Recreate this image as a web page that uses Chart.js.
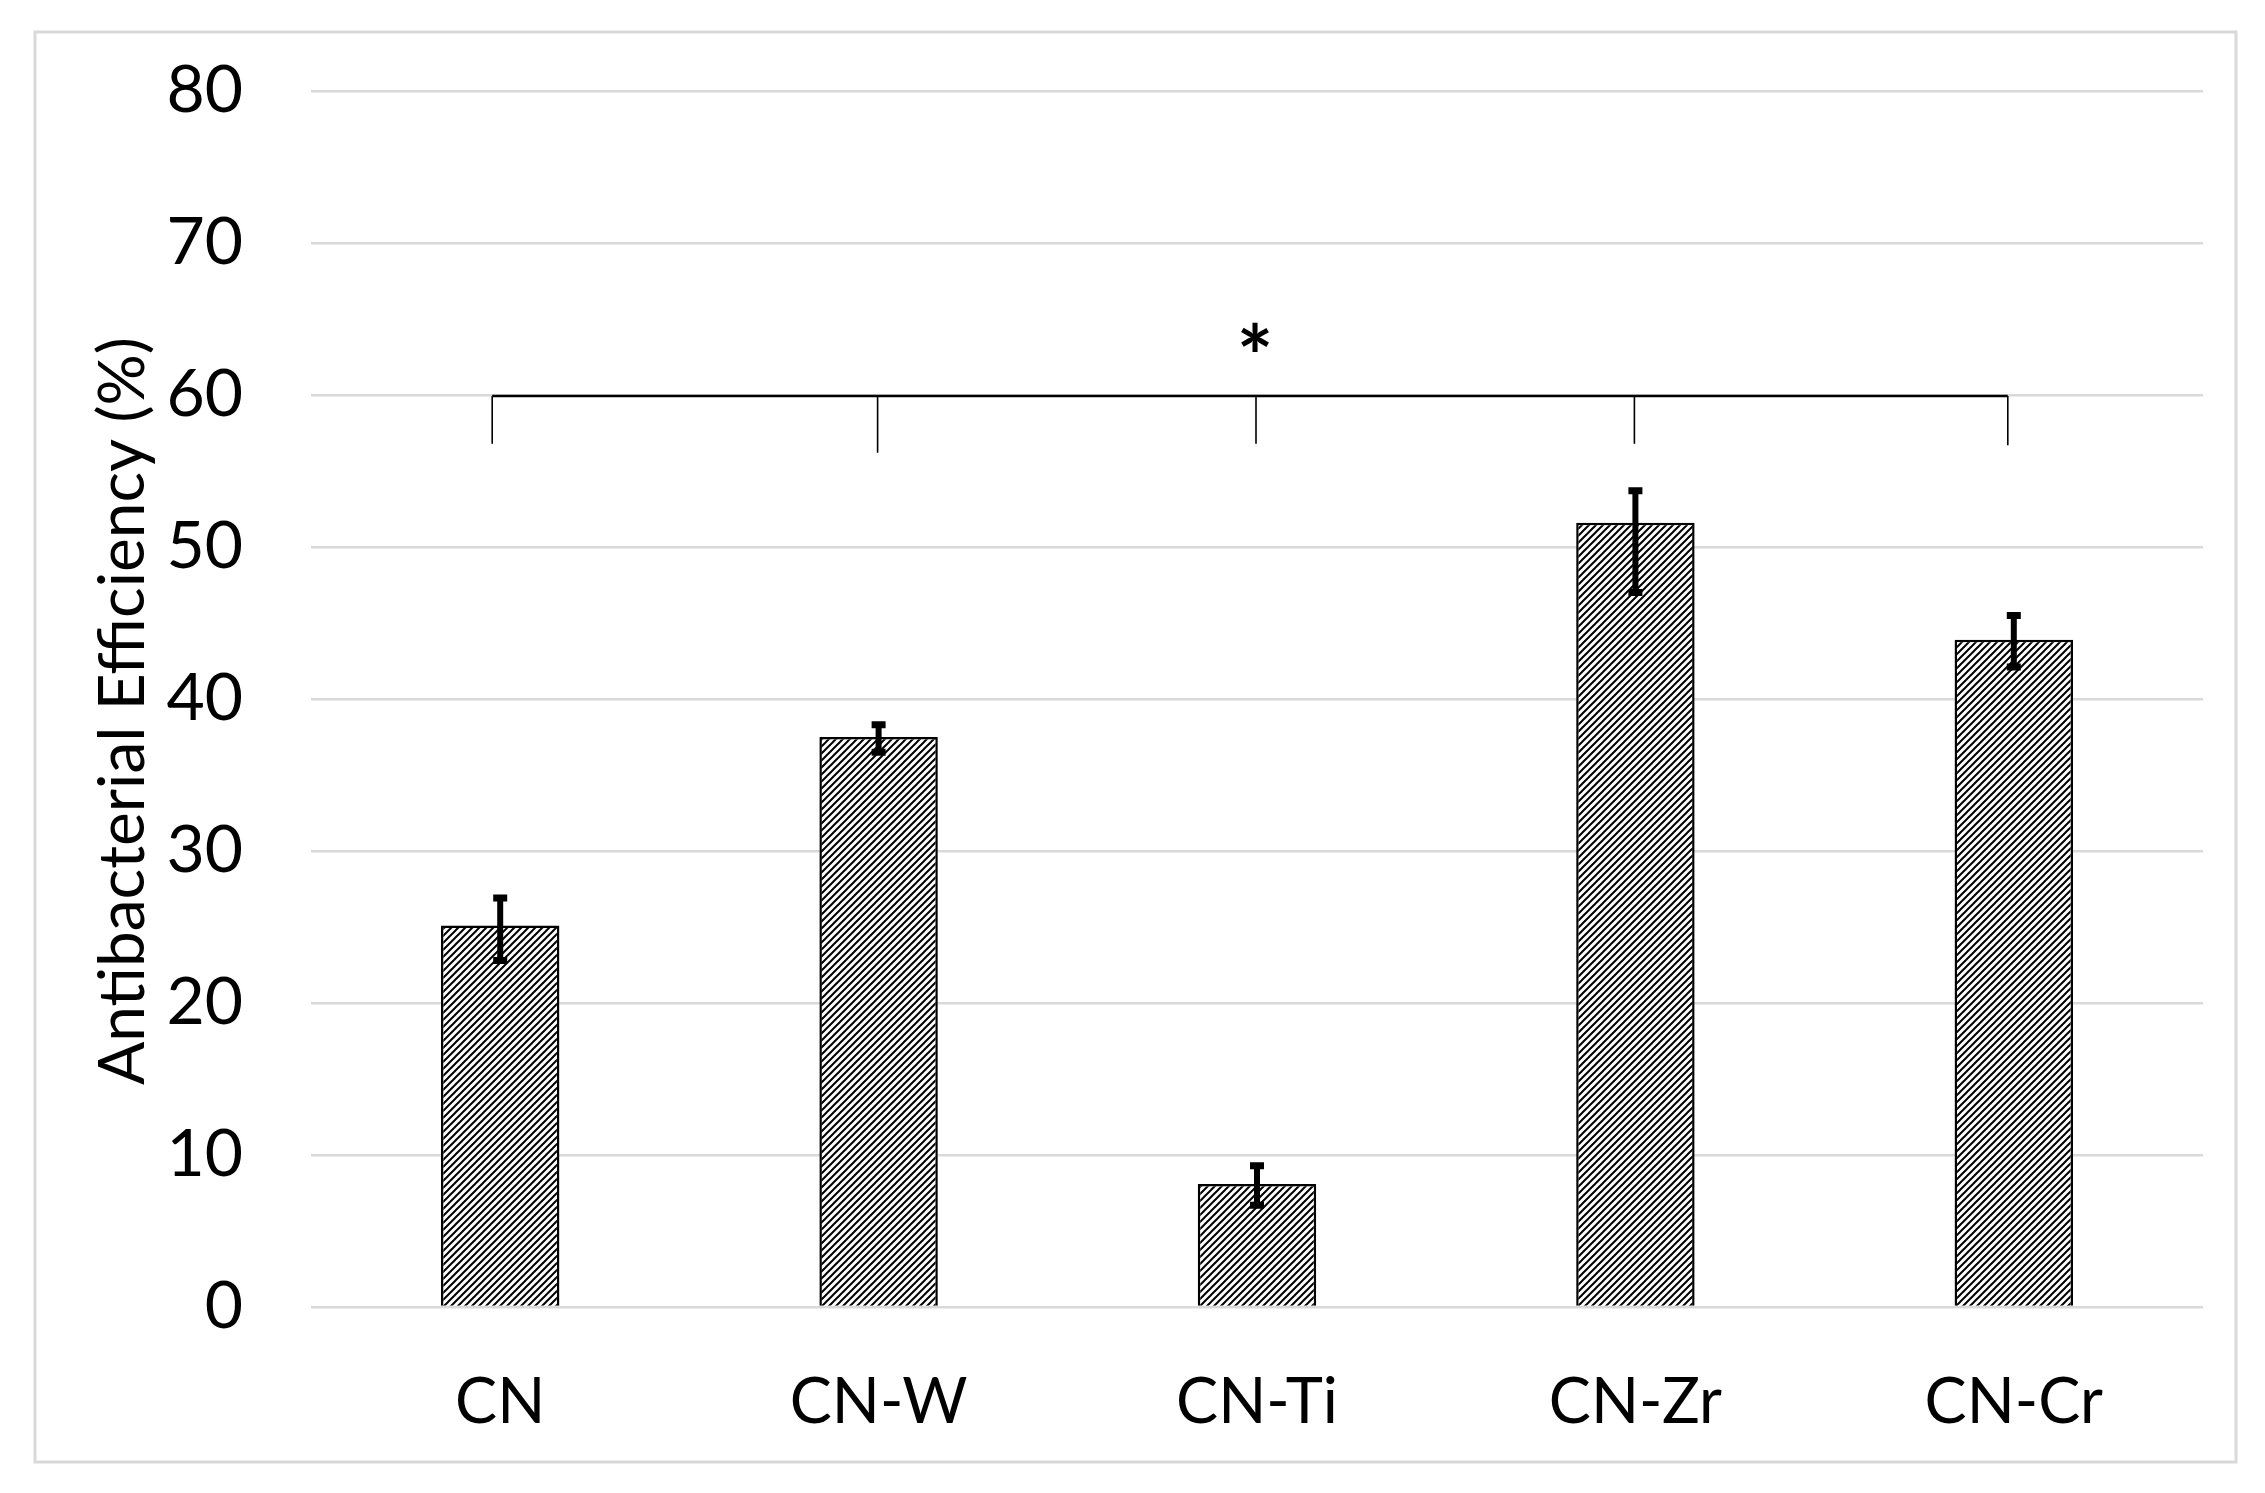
<!DOCTYPE html>
<html>
<head>
<meta charset="utf-8">
<script src="https://cdn.jsdelivr.net/npm/chart.js@4.4.1/dist/chart.umd.min.js"></script>
<style>
  html, body { margin: 0; padding: 0; background: #fff; }
  #wrap { width: 2265px; height: 1493px; }
</style>
</head>
<body>
<div id="wrap"><canvas id="chart" width="2265" height="1493"></canvas></div>
<script>
const categories = ['CN', 'CN-W', 'CN-Ti', 'CN-Zr', 'CN-Cr'];
const efficiency = [25.1, 37.5, 8.1, 51.6, 43.9];
const errorUp = [1.8, 0.8, 1.2, 2.1, 1.6];
const errorDown = [2.3, 1.0, 1.4, 4.6, 1.8];
const yTicks = [0, 10, 20, 30, 40, 50, 60, 70, 80];
const bracketLevel = 60;
const bracketTickEnds = [56.8, 56.2, 56.8, 56.8, 56.7];
const starLevel = 63.8;
const yTitle = 'Antibacterial Efficiency (%)';

const FONT = 'Lato, "Open Sans", sans-serif';

// diagonal hatch like the excel pattern fill
function makeHatch() {
    const n = 7;
    const c = document.createElement('canvas');
    c.width = n; c.height = n;
    const g = c.getContext('2d');
    g.fillStyle = '#fff';
    g.fillRect(0, 0, n, n);
    g.strokeStyle = '#000';
    g.lineWidth = 2;
    g.beginPath();
    g.moveTo(0, n); g.lineTo(n, 0);
    g.moveTo(-2, 2); g.lineTo(2, -2);
    g.moveTo(n - 2, n + 2); g.lineTo(n + 2, n - 2);
    g.stroke();
    return g.createPattern(c, 'repeat');
}

const frame = {
    id: 'frame',
    beforeDraw(chart) {
        const ctx = chart.ctx;
        ctx.save();
        ctx.fillStyle = '#fff';
        ctx.fillRect(0, 0, chart.width, chart.height);
        ctx.strokeStyle = '#d9d9d9';
        ctx.lineWidth = 3;
        ctx.strokeRect(35, 32, 2201, 1430);
        ctx.restore();
    }
};

const extras = {
    id: 'extras',
    afterDatasetsDraw(chart) {
        const ctx = chart.ctx;
        const y = chart.scales.y;
        const meta = chart.getDatasetMeta(0);
        ctx.save();

        // error bars
        ctx.strokeStyle = '#000';
        for (let i = 0; i < efficiency.length; i++) {
            const x = meta.data[i].x;
            const top = y.getPixelForValue(efficiency[i] + errorUp[i]);
            const bot = y.getPixelForValue(efficiency[i] - errorDown[i]);
            ctx.lineWidth = 6;
            ctx.beginPath();
            ctx.moveTo(x, top); ctx.lineTo(x, bot);
            ctx.stroke();
            ctx.lineWidth = 7;
            ctx.beginPath();
            ctx.moveTo(x - 7, top); ctx.lineTo(x + 7, top);
            ctx.moveTo(x - 7, bot); ctx.lineTo(x + 7, bot);
            ctx.stroke();
        }

        // significance bracket
        const by = y.getPixelForValue(bracketLevel) + 1;
        const first = meta.data[0].x;
        const last = meta.data[meta.data.length - 1].x;
        ctx.lineWidth = 2.5;
        ctx.beginPath();
        ctx.moveTo(first - 8, by); ctx.lineTo(last - 6, by);
        ctx.stroke();
        ctx.lineWidth = 1.6;
        ctx.beginPath();
        for (let i = 0; i < meta.data.length; i++) {
            const x = meta.data[i].x - (i === 0 ? 8 : i === meta.data.length - 1 ? 6 : 1);
            ctx.moveTo(x, by);
            ctx.lineTo(x, y.getPixelForValue(bracketTickEnds[i]));
        }
        ctx.stroke();

        // asterisk
        ctx.fillStyle = '#000';
        ctx.font = 'bold 86px ' + FONT;
        ctx.textAlign = 'center';
        ctx.textBaseline = 'alphabetic';
        const m = ctx.measureText('*');
        const sy = y.getPixelForValue(starLevel) + (m.actualBoundingBoxAscent - m.actualBoundingBoxDescent) / 2;
        ctx.fillText('*', meta.data[2].x - 2, sy);

        // y title
        ctx.font = '64px ' + FONT;
        ctx.textBaseline = 'middle';
        ctx.translate(123, 711);
        ctx.rotate(-Math.PI / 2);
        ctx.fillText(yTitle, 0, 0);
        ctx.restore();
    }
};

const ctx = document.getElementById('chart');
new Chart(ctx, {
    type: 'bar',
    data: {
        labels: categories,
        datasets: [{
            data: efficiency,
            backgroundColor: makeHatch(),
            borderColor: '#000',
            borderWidth: 2.5,
            categoryPercentage: 1,
            barPercentage: 0.313
        }]
    },
    options: {
        responsive: false,
        animation: false,
        devicePixelRatio: 1,
        layout: { padding: { left: 0, top: 91, right: 62, bottom: 0 } },
        plugins: { legend: { display: false }, tooltip: { enabled: false } },
        scales: {
            x: {
                grid: { display: false, drawTicks: false },
                border: { display: false },
                ticks: { color: '#000', font: { family: FONT, size: 63 }, padding: 58 },
                afterFit(s) { s.height = 186; s.paddingLeft = 0; s.paddingRight = 0; }
            },
            y: {
                min: 0,
                max: 80,
                afterBuildTicks(s) { s.ticks = yTicks.map(v => ({ value: v })); },
                grid: { color: '#d9d9d9', lineWidth: 2.5, drawTicks: false },
                border: { display: false },
                ticks: { color: '#000', font: { family: FONT, size: 66 }, padding: 68 },
                afterFit(s) { s.width = 311; s.paddingTop = 0; s.paddingBottom = 0; }
            }
        }
    },
    plugins: [frame, extras]
});
</script>
</body>
</html>
